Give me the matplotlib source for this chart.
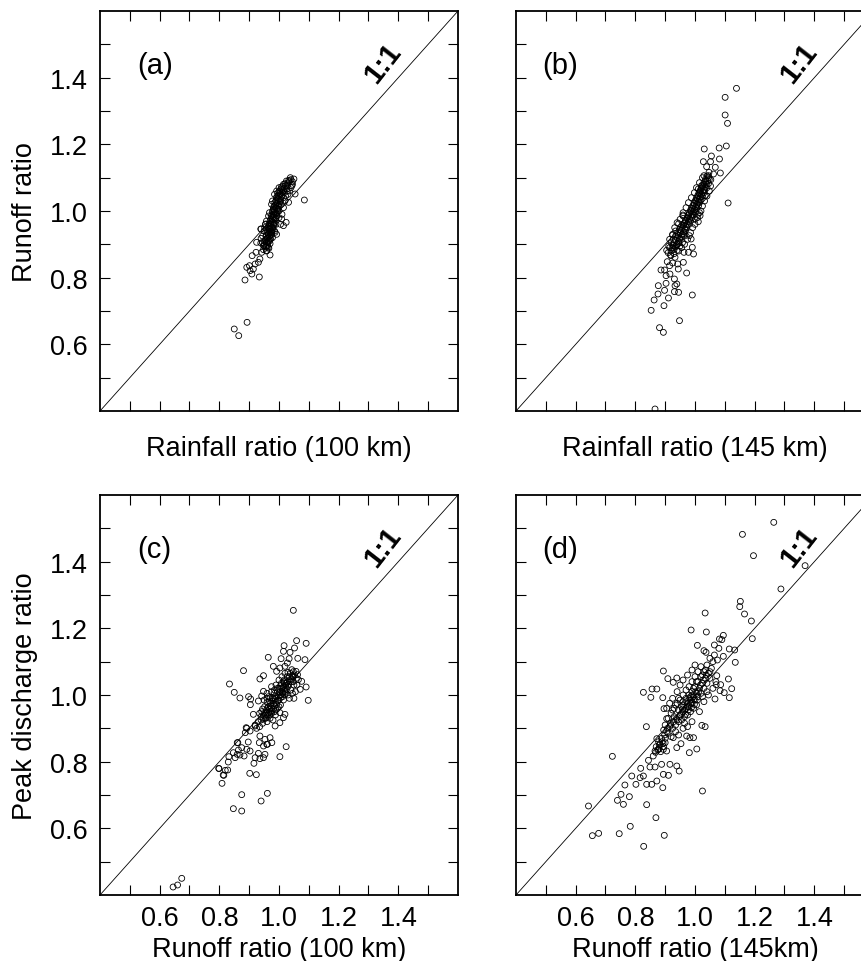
import numpy as np
import matplotlib
matplotlib.use("Agg")
import matplotlib.pyplot as plt
from matplotlib.ticker import FixedLocator

plt.rcParams['font.family'] = ['Liberation Sans', 'DejaVu Sans']

# ---------------- data ----------------
# (a) rainfall ratio (100 km) vs runoff ratio
pts_a = [
    (0.850, 0.646), (0.865, 0.626), (0.893, 0.666), (0.886, 0.793), (0.934, 0.802), (1.085, 1.033),
    (0.910, 0.866), (0.936, 0.856), (0.892, 0.831), (0.903, 0.821), (0.914, 0.826), (0.909, 0.811),
    (0.920, 0.841), (0.931, 0.846), (0.942, 0.876), (0.970, 0.868), (0.948, 0.896), (0.964, 0.891),
    (0.939, 0.946), (0.925, 0.906), (0.976, 0.936), (1.015, 0.956), (1.009, 0.976), (0.981, 1.006),
    (1.024, 0.966), (0.901, 0.836), (0.923, 0.876), (0.959, 0.881), (0.939, 0.904), (0.955, 0.961),
    (0.940, 0.946), (0.987, 0.936), (1.032, 1.026), (1.050, 1.096), (1.035, 1.088), (1.043, 1.076),
    (1.054, 1.051), (1.026, 1.066), (1.020, 1.056),
    (0.958, 0.880), (0.948, 0.884), (0.966, 0.888), (0.955, 0.892), (0.962, 0.896), (0.950, 0.900),
    (0.970, 0.902), (0.958, 0.906), (0.965, 0.910), (0.955, 0.914), (0.972, 0.916), (0.962, 0.920),
    (0.968, 0.924), (0.958, 0.928), (0.975, 0.930), (0.965, 0.934), (0.972, 0.938), (0.962, 0.942),
    (0.980, 0.944), (0.969, 0.948), (0.976, 0.952), (0.966, 0.956), (0.983, 0.958), (0.973, 0.962),
    (0.980, 0.966), (0.970, 0.970), (0.988, 0.972), (0.977, 0.976), (0.984, 0.980), (0.974, 0.984),
    (0.992, 0.986), (0.981, 0.990), (0.988, 0.994), (0.978, 0.998), (0.996, 1.000), (0.985, 1.004),
    (0.992, 1.008), (0.982, 1.012), (1.000, 1.014), (0.989, 1.018), (0.996, 1.022), (0.986, 1.026),
    (1.004, 1.028), (0.993, 1.032), (1.000, 1.036), (0.991, 1.040), (1.008, 1.042), (0.998, 1.046),
    (1.005, 1.050), (0.996, 1.054), (1.012, 1.056), (1.003, 1.060), (1.010, 1.064), (1.018, 1.068),
    (1.008, 1.072), (1.022, 1.076), (1.015, 1.080), (1.030, 1.084), (1.025, 1.090), (1.040, 1.094),
    (1.010, 0.990), (1.015, 1.010), (1.020, 1.030), (1.030, 1.050), (1.035, 1.060), (1.000, 0.980),
    (0.990, 0.960), (0.985, 0.940), (0.978, 0.920), (0.945, 0.905), (0.940, 0.918), (0.950, 0.940),
    (0.955, 0.960), (0.965, 0.985), (0.975, 1.020), (0.985, 1.050), (1.000, 1.070), (1.040, 1.070),
    (1.045, 1.080), (0.992, 0.930), (1.005, 0.960),
    (0.962, 0.905), (0.952, 0.910), (0.968, 0.915), (0.960, 0.918), (0.956, 0.925), (0.971, 0.927),
    (0.964, 0.930), (0.960, 0.936), (0.975, 0.940), (0.967, 0.944), (0.963, 0.950), (0.979, 0.950),
    (0.971, 0.955), (0.967, 0.962), (0.983, 0.964), (0.975, 0.968), (0.972, 0.975), (0.988, 0.978),
    (0.980, 0.982), (0.976, 0.988), (0.991, 0.992), (0.984, 0.996), (0.980, 1.002), (0.996, 1.006),
    (0.988, 1.010), (0.985, 1.016), (1.000, 1.020), (0.992, 1.024), (0.990, 1.030), (1.005, 1.032),
    (0.997, 1.038), (0.994, 1.044), (1.010, 1.048), (1.002, 1.052), (1.000, 1.058), (1.015, 1.060),
    (1.007, 1.066), (1.013, 1.074), (1.020, 1.082), (1.028, 1.078), (1.033, 1.092), (1.045, 1.088),
    (1.038, 1.100), (1.015, 1.040), (1.008, 1.020), (1.000, 1.000), (0.990, 0.980), (0.982, 0.960),
    (0.975, 0.935), (0.968, 0.910), (0.958, 0.892), (0.950, 0.895), (0.945, 0.925), (0.952, 0.950),
    (0.958, 0.970), (0.968, 0.995), (0.978, 1.030), (0.992, 1.060), (1.022, 1.045), (1.028, 1.060),
]

# (b) rainfall ratio (145 km) vs runoff ratio
pts_b = [
    (1.139, 1.368), (1.101, 1.341), (1.101, 1.288), (1.109, 1.263), (1.081, 1.189), (1.105, 1.195),
    (1.031, 1.186), (1.055, 1.165), (1.028, 1.148), (1.052, 1.148), (1.082, 1.156), (1.068, 1.131),
    (1.039, 1.133), (1.085, 1.114), (1.047, 1.116), (1.045, 1.106), (1.030, 1.106), (1.053, 1.094),
    (1.062, 1.111), (1.111, 1.024), (0.959, 0.988), (1.017, 0.986), (1.034, 1.046), (1.011, 1.066),
    (1.022, 1.076),
    (1.011, 0.968), (0.995, 0.871), (0.991, 0.891), (0.972, 0.814), (0.991, 0.748), (0.948, 0.671),
    (0.881, 0.650), (0.894, 0.636), (0.853, 0.702), (0.863, 0.733), (0.896, 0.716), (0.911, 0.739),
    (0.876, 0.751), (0.877, 0.776), (0.898, 0.762), (0.931, 0.758), (0.945, 0.756), (0.933, 0.776),
    (0.939, 0.781), (0.903, 0.783), (0.886, 0.823), (0.898, 0.823), (0.903, 0.806), (0.931, 0.796),
    (0.916, 0.811), (0.907, 0.848), (0.915, 0.836), (0.925, 0.844), (0.942, 0.841), (0.944, 0.826),
    (0.961, 0.846), (0.919, 0.866), (0.933, 0.861), (0.963, 0.876), (0.978, 0.876), (0.927, 0.896),
    (0.987, 0.916), (0.981, 0.926), (0.866, 0.406),
    (0.920, 0.880), (0.930, 0.885), (0.915, 0.890), (0.935, 0.893), (0.925, 0.898), (0.940, 0.900),
    (0.930, 0.905), (0.945, 0.908), (0.935, 0.912), (0.950, 0.915), (0.940, 0.920), (0.955, 0.922),
    (0.945, 0.927), (0.958, 0.930), (0.950, 0.935), (0.962, 0.938), (0.953, 0.942), (0.966, 0.946),
    (0.957, 0.950), (0.970, 0.953), (0.961, 0.957), (0.974, 0.960), (0.965, 0.964), (0.978, 0.968),
    (0.969, 0.972), (0.982, 0.975), (0.973, 0.979), (0.986, 0.982), (0.977, 0.986), (0.990, 0.990),
    (0.981, 0.994), (0.994, 0.998), (0.985, 1.002), (0.998, 1.005), (0.989, 1.009), (1.002, 1.012),
    (0.993, 1.016), (1.006, 1.020), (0.997, 1.024), (1.010, 1.027), (1.001, 1.031), (1.014, 1.035),
    (1.005, 1.039), (1.018, 1.042), (1.009, 1.046), (1.022, 1.050), (1.013, 1.054), (1.026, 1.057),
    (1.017, 1.061), (1.030, 1.065), (1.021, 1.069), (1.034, 1.072), (1.025, 1.076), (1.038, 1.080),
    (1.030, 1.085), (1.042, 1.090), (1.035, 1.095), (1.045, 1.100),
    (0.925, 0.890), (0.912, 0.895), (0.938, 0.896), (0.920, 0.905), (0.945, 0.903), (0.928, 0.915),
    (0.948, 0.918), (0.935, 0.925), (0.955, 0.928), (0.942, 0.935), (0.962, 0.932), (0.948, 0.945),
    (0.968, 0.942), (0.955, 0.955), (0.972, 0.950), (0.962, 0.962), (0.980, 0.960), (0.968, 0.970),
    (0.985, 0.970), (0.975, 0.980), (0.990, 0.980), (0.980, 0.990), (0.996, 0.988), (0.987, 0.998),
    (1.000, 0.998), (0.992, 1.008), (1.006, 1.008), (0.998, 1.018), (1.012, 1.016), (1.004, 1.028),
    (1.016, 1.026), (1.008, 1.036), (1.020, 1.034), (1.012, 1.046), (1.025, 1.044), (1.016, 1.056),
    (1.030, 1.055), (1.020, 1.064), (1.033, 1.062), (1.026, 1.072), (1.040, 1.070), (1.030, 1.080),
    (1.045, 1.082), (1.036, 1.090), (1.048, 1.095), (1.040, 1.105), (0.910, 0.875), (0.918, 0.868),
    (0.930, 0.872), (0.905, 0.882), (0.940, 0.882), (0.950, 0.895), (0.958, 0.905), (0.915, 0.915),
    (0.925, 0.928), (0.935, 0.940), (0.945, 0.962), (0.960, 0.985), (1.000, 0.975), (1.010, 0.990),
    (1.020, 1.000), (0.965, 0.925),
    (0.925, 0.930), (0.932, 0.950), (0.940, 0.965), (0.950, 0.975), (0.960, 0.995), (0.970, 1.010),
    (0.978, 1.025), (0.988, 1.040), (0.998, 1.055), (1.005, 1.070), (1.015, 1.085), (1.025, 1.100),
    (0.945, 0.880), (0.955, 0.890), (0.965, 0.900), (0.975, 0.915), (0.985, 0.935), (0.992, 0.950),
    (1.000, 0.960), (1.008, 0.980), (1.015, 0.995), (1.025, 1.015), (1.032, 1.030), (1.040, 1.045),
    (1.048, 1.060), (1.052, 1.075),
]

# (c) runoff ratio (100 km) vs peak discharge ratio
pts_c = [
    (1.048, 1.254), (1.059, 1.163), (1.091, 1.155), (1.017, 1.148), (1.052, 1.141), (1.015, 1.131),
    (1.037, 1.128), (0.964, 1.113), (1.007, 1.109), (1.034, 1.109), (1.063, 1.110), (1.087, 1.106),
    (0.881, 1.073), (0.834, 1.033), (0.850, 1.008), (0.869, 0.991), (0.898, 0.995), (0.905, 0.988),
    (0.904, 0.971), (1.098, 0.984), (1.091, 1.024), (1.071, 1.017), (1.076, 1.041), (0.914, 0.942),
    (0.892, 0.900), (0.887, 0.887), (0.862, 0.857), (0.798, 0.780), (0.813, 0.760), (0.809, 0.735),
    (0.948, 1.058), (0.936, 1.048), (0.981, 1.086), (0.992, 1.071), (1.003, 1.081), (1.020, 1.086),
    (1.028, 1.096), (1.043, 1.076), (1.057, 1.071), (1.062, 1.061), (1.048, 1.056), (1.065, 1.046),
    (0.948, 1.011), (0.942, 0.997), (0.931, 0.982), (0.890, 0.902), (0.903, 0.892), (0.920, 0.907),
    (0.936, 0.877), (0.953, 0.867), (0.970, 0.872), (0.976, 0.857), (0.959, 0.852), (0.948, 0.847),
    (0.987, 0.907), (1.003, 0.917), (1.015, 0.932), (1.003, 0.947), (1.020, 0.942),
    (1.024, 0.845), (1.003, 0.815), (0.961, 0.705), (0.940, 0.682), (0.875, 0.701), (0.847, 0.659),
    (0.875, 0.652), (0.902, 0.765), (0.924, 0.761), (0.799, 0.779), (0.815, 0.759), (0.820, 0.774),
    (0.828, 0.775), (0.830, 0.799), (0.832, 0.815), (0.847, 0.827), (0.853, 0.812), (0.860, 0.822),
    (0.869, 0.820), (0.883, 0.817), (0.875, 0.842), (0.864, 0.835), (0.903, 0.832), (0.892, 0.837),
    (0.916, 0.795), (0.920, 0.812), (0.931, 0.825), (0.936, 0.809), (0.948, 0.812), (0.953, 0.822),
    (0.934, 0.857), (0.961, 0.852), (0.897, 0.859), (0.860, 0.857),
    (0.645, 0.424), (0.660, 0.430), (0.674, 0.450),
    (0.930, 0.920), (0.945, 0.915), (0.940, 0.935), (0.955, 0.930), (0.950, 0.945), (0.962, 0.940),
    (0.958, 0.955), (0.970, 0.950), (0.965, 0.965), (0.975, 0.960), (0.972, 0.975), (0.985, 0.968),
    (0.980, 0.982), (0.960, 0.978), (0.990, 0.978), (0.978, 0.992), (0.952, 0.965), (0.945, 0.958),
    (0.968, 0.940), (0.985, 0.950), (0.995, 0.960), (0.990, 0.995), (1.000, 0.985), (1.005, 1.000),
    (0.995, 1.010), (1.010, 1.010), (1.000, 1.020), (1.015, 1.025), (1.008, 1.035), (1.020, 1.015),
    (1.025, 1.035), (1.018, 1.045), (1.030, 1.025), (1.035, 1.045), (1.028, 1.055), (1.040, 1.040),
    (1.045, 1.055), (1.022, 1.005), (1.012, 0.995), (1.030, 1.000), (1.040, 1.015), (1.050, 1.030),
    (0.985, 1.015), (0.975, 1.010), (0.990, 1.030), (1.000, 1.045), (1.010, 1.055), (1.020, 1.065),
    (0.970, 0.930), (0.980, 0.925), (0.960, 0.920), (0.935, 0.905), (0.925, 0.900), (0.920, 0.910),
    (1.005, 0.970), (1.015, 0.985), (0.988, 0.940), (0.975, 0.945), (0.950, 0.985), (0.965, 0.995),
    (0.960, 1.005), (0.975, 1.025), (1.045, 1.005), (1.055, 1.010), (1.035, 0.990), (1.050, 0.990),
    (1.060, 1.030), (1.058, 1.050), (1.048, 1.070), (1.038, 1.065), (0.998, 0.998), (1.002, 1.008),
    (1.018, 1.002), (1.026, 1.018), (0.982, 0.958), (0.992, 0.972), (0.968, 0.958), (0.958, 0.948),
    (0.948, 0.938),
    (0.955, 0.940), (0.965, 0.945), (0.975, 0.952), (0.962, 0.962), (0.972, 0.968), (0.982, 0.975),
    (0.968, 0.982), (0.978, 0.988), (0.988, 0.990), (0.995, 0.982), (1.005, 0.992), (1.012, 1.005),
    (1.020, 1.010), (1.010, 1.020), (1.022, 1.028), (1.032, 1.032), (1.028, 1.040), (1.015, 1.040),
    (1.035, 1.055), (1.042, 1.048), (1.005, 1.028), (0.995, 1.020), (0.985, 1.005), (0.958, 0.932),
    (0.948, 0.928), (0.940, 0.925), (0.935, 0.945), (0.942, 0.950), (0.990, 0.955), (1.000, 0.965),
    (1.018, 1.035), (1.048, 1.040), (1.052, 1.060), (1.030, 1.068), (0.970, 0.992), (0.960, 0.990),
]

# (d) runoff ratio (145 km) vs peak discharge ratio
pts_d = [
    (1.264, 1.518), (1.159, 1.482), (1.196, 1.418), (1.369, 1.388), (1.288, 1.318), (1.152, 1.281),
    (1.150, 1.265), (1.166, 1.243), (1.189, 1.222), (1.192, 1.169), (1.034, 1.246), (0.987, 1.195),
    (1.038, 1.189), (1.082, 1.168), (1.095, 1.179), (1.090, 1.166), (1.008, 1.149), (1.030, 1.133),
    (1.037, 1.128), (1.115, 1.138), (1.133, 1.135), (1.135, 1.098), (1.095, 1.116), (0.894, 1.072),
    (0.827, 1.008), (0.856, 1.018), (0.872, 1.018), (0.852, 0.993), (0.892, 0.992), (0.837, 0.905),
    (0.723, 0.816), (0.643, 0.667), (0.656, 0.578), (0.677, 0.585), (0.746, 0.584), (0.783, 0.606),
    (0.828, 0.546), (0.897, 0.579), (0.869, 0.632), (0.838, 0.671), (1.025, 0.712), (0.740, 0.684),
    (0.760, 0.672), (0.752, 0.702), (0.780, 0.695), (0.765, 0.730), (0.788, 0.757), (0.802, 0.732),
    (0.816, 0.752), (0.827, 0.757), (0.838, 0.732), (0.855, 0.732), (0.872, 0.742), (0.892, 0.722),
    (0.894, 0.762), (0.911, 0.759), (0.916, 0.792), (0.939, 0.787), (0.947, 0.772), (0.844, 0.804),
    (0.866, 0.784), (0.888, 0.792), (0.849, 0.784), (0.818, 0.780), (0.981, 0.827), (1.006, 0.838),
    (1.023, 0.909), (1.034, 0.905), (0.953, 0.854), (0.939, 0.842), (0.927, 0.872), (0.972, 0.877),
    (0.983, 0.872), (0.995, 0.872), (1.073, 1.058), (1.112, 1.048), (1.123, 1.019), (1.084, 1.013),
    (1.098, 1.007), (1.115, 0.992), (1.067, 0.988), (1.071, 1.031), (1.086, 1.031), (0.939, 1.051),
    (0.927, 1.038), (0.909, 1.049), (0.896, 0.959), (0.905, 0.929), (0.918, 0.915), (0.872, 0.869),
    (0.866, 0.832), (0.877, 0.837), (0.860, 0.817), (0.894, 0.837), (0.905, 0.832), (0.883, 0.852),
    (0.900, 0.857),
    (0.950, 0.940), (0.960, 0.950), (0.945, 0.955), (0.965, 0.935), (0.970, 0.960), (0.955, 0.965),
    (0.975, 0.975), (0.960, 0.980), (0.980, 0.965), (0.985, 0.985), (0.970, 0.990), (0.990, 0.975),
    (0.995, 0.995), (0.980, 1.000), (1.000, 0.985), (1.005, 1.005), (0.990, 1.010), (1.010, 0.995),
    (1.015, 1.020), (1.000, 1.025), (1.020, 1.005), (1.025, 1.035), (1.010, 1.040), (1.030, 1.020),
    (1.035, 1.050), (1.020, 1.055), (1.040, 1.035), (1.045, 1.065), (1.030, 1.070), (1.050, 1.050),
    (0.940, 0.925), (0.930, 0.935), (0.935, 0.910), (0.925, 0.900), (0.915, 0.905), (0.945, 0.920),
    (0.955, 0.925), (0.965, 0.915), (0.975, 0.940), (0.985, 0.950), (0.995, 0.960), (1.005, 0.970),
    (0.950, 0.985), (0.940, 0.975), (0.960, 1.000), (0.970, 1.015), (0.980, 1.025), (0.990, 1.040),
    (1.000, 1.055), (1.010, 1.070), (1.020, 1.085), (1.040, 1.090), (1.055, 1.080), (1.060, 1.100),
    (0.930, 0.960), (0.920, 0.945), (0.910, 0.930), (0.900, 0.910), (0.910, 0.885), (0.920, 0.875),
    (0.900, 0.870), (0.890, 0.860), (0.880, 0.850), (0.875, 0.835), (0.885, 0.830), (0.870, 0.845),
    (0.895, 0.845), (0.905, 0.890), (0.895, 0.895), (0.960, 0.900), (0.975, 0.905), (0.990, 0.920),
    (1.015, 0.950), (1.030, 0.980), (1.045, 1.000), (1.060, 1.020), (1.070, 1.040), (1.000, 1.090),
    (0.990, 1.075), (0.975, 1.060), (0.960, 1.045), (0.950, 1.030), (0.940, 1.010), (0.925, 0.990),
    (0.915, 0.975), (0.905, 0.960), (0.935, 0.890), (0.945, 0.880), (1.025, 0.995), (1.040, 1.010),
    (1.050, 1.110), (1.065, 1.120), (1.075, 1.105), (1.080, 1.140), (1.065, 1.150),
    (0.955, 0.945), (0.965, 0.955), (0.975, 0.965), (0.985, 0.975), (0.995, 0.985), (0.962, 0.970),
    (0.972, 0.980), (0.982, 0.990), (0.992, 1.000), (1.002, 1.010), (0.978, 0.955), (0.988, 0.962),
    (0.998, 0.972), (1.008, 0.985), (1.012, 1.010), (1.018, 1.030), (1.028, 1.045), (1.038, 1.060),
    (0.948, 0.935), (0.938, 0.930), (0.928, 0.920), (0.918, 0.910), (0.908, 0.900), (0.898, 0.880),
    (0.888, 0.870), (0.878, 0.860), (0.893, 0.855), (0.880, 0.840), (0.868, 0.828), (0.958, 0.958),
    (0.968, 0.942), (0.985, 0.995), (0.995, 1.020), (1.005, 1.040), (1.025, 1.060), (1.035, 1.075),
    (0.945, 0.990), (0.935, 0.970), (0.925, 0.955), (1.050, 1.070),
]

panel_letters = ["(a)", "(b)", "(c)", "(d)"]
x_labels = ["Rainfall ratio (100 km)", "Rainfall ratio (145 km)",
            "Runoff ratio (100 km)", "Runoff ratio (145km)"]
y_labels = ["Runoff ratio", None, "Peak discharge ratio", None]
axis_limits = (0.4, 1.6)
labelled_ticks = [0.6, 0.8, 1.0, 1.2, 1.4]
minor_ticks = [0.5, 0.7, 0.9, 1.1, 1.3, 1.5]

# ---------------- figure ----------------
W, H = 862, 962
fig = plt.figure(figsize=(W / 100, H / 100), dpi=100)

ax_w, ax_h = 358 / W, 400 / H
positions = [
    (100 / W, 1 - 412 / H),
    (516 / W, 1 - 412 / H),
    (100 / W, 1 - 896 / H),
    (516 / W, 1 - 896 / H),
]
letter_x = [0.103, 0.072, 0.105, 0.072]
datasets = [pts_a, pts_b, pts_c, pts_d]
fs = 19.5

for i, (pos, pts) in enumerate(zip(positions, datasets)):
    ax = fig.add_axes([pos[0], pos[1], ax_w, ax_h])
    arr = np.array(pts)
    ax.axline((1.0, 1.0), slope=1, color="black", lw=0.6, zorder=1)
    ax.scatter(arr[:, 0], arr[:, 1], s=18, facecolors="none",
               edgecolors="black", linewidths=0.6, zorder=2)
    ax.set_xlim(*axis_limits)
    ax.set_ylim(*axis_limits)

    for axis in (ax.xaxis, ax.yaxis):
        axis.set_major_locator(FixedLocator(labelled_ticks))
        axis.set_minor_locator(FixedLocator(minor_ticks))
    ax.tick_params(which="both", direction="in", top=True, right=True,
                   length=7, width=0.8, labelsize=fs)
    ax.tick_params(axis="x", pad=7)
    ax.tick_params(axis="y", pad=9)
    ax.set_xticklabels([f"{v:.1f}" for v in labelled_ticks])
    ax.set_yticklabels([f"{v:.1f}" for v in labelled_ticks])
    if i < 2:
        ax.tick_params(axis="x", labelbottom=False)
    if i % 2 == 1:
        ax.tick_params(axis="y", labelleft=False)
    for sp in ax.spines.values():
        sp.set_linewidth(1.3)

    ax.set_xlabel(x_labels[i], fontsize=fs)
    if i < 2:
        ax.xaxis.set_label_coords(0.5, -0.060)
    else:
        ax.xaxis.set_label_coords(0.5, -0.103)
    if y_labels[i]:
        ax.set_ylabel(y_labels[i], fontsize=fs)
        ax.yaxis.label.set_verticalalignment("center")
        ax.yaxis.set_label_coords(-0.21, 0.5)

    ax.text(letter_x[i], 0.865, panel_letters[i], transform=ax.transAxes,
            fontsize=21, ha="left", va="center")
    ax.text(0.79, 0.872, "1:1", transform=ax.transAxes, fontsize=21,
            fontweight="bold", rotation=52, ha="center", va="center")

fig.savefig("out.png", dpi=100)
